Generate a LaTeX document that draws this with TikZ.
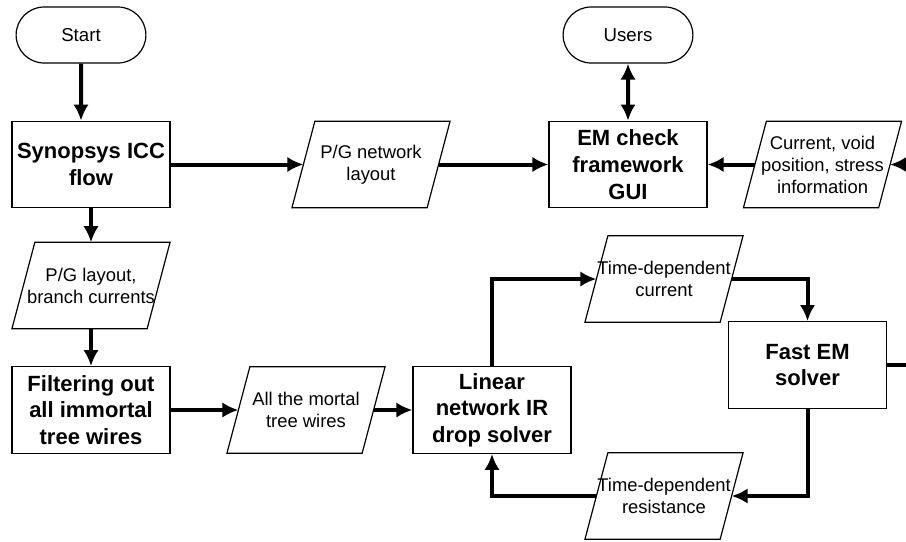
\documentclass[tikz,border=0pt]{standalone}
\usepackage{fontspec}
\setmainfont{Liberation Sans}
\usetikzlibrary{shapes.misc,arrows.meta}
\tikzset{
  term/.style={draw,line width=0.9pt,rounded rectangle,minimum width=104pt,minimum height=42pt,font=\fontsize{14}{16.5}\selectfont},
  proc/.style={draw,line width=0.9pt,minimum width=118.5pt,minimum height=65pt,align=center,inner sep=1pt,font=\bfseries\fontsize{16.5}{20}\selectfont},
  data/.style={minimum width=101pt,minimum height=64.5pt,align=center,inner sep=0pt,font=\fontsize{13.8}{16.5}\selectfont},
  flow/.style={line width=3pt,-{Latex[length=12pt,width=11.5pt]}},
}
\begin{document}
\begin{tikzpicture}[x=0.75pt,y=-0.75pt]
  \useasboundingbox (0,0) rectangle (906,542);
  \node[term] (start) at (81,35) {Start};
  \node[term] (users) at (628,35) {Users};
  \node[proc] (icc) at (91,164.5) {Synopsys ICC\\flow};
  \node[data] (pgnet) at (371,164.5) {P/G network\\layout};
  \node[proc] (gui) at (628,164.5) {EM check\\framework\\GUI};
  \node[data] (info) at (822.5,164.5) {Current, void\\position, stress\\information};
  \node[data] (pglay) at (91,285.5) {P/G layout,\\branch currents};
  \node[proc] (filter) at (91,410) {Filtering out\\all immortal\\tree wires};
  \node[data] (mortal) at (306,410) {All the mortal\\tree wires};
  \node[proc] (irdrop) at (492,410) {Linear\\network IR\\drop solver};
  \node[data] (tdcur) at (664,279) {Time-dependent\\current};
  \node[proc] (fastem) at (807.5,365) {Fast EM\\solver};
  \node[data] (tdres) at (664,496) {Time-dependent\\resistance};
  \coordinate (infoin) at (906,164.5);
  \coordinate (emout) at (906,365);
  % parallelogram outlines
  \foreach \n in {pgnet,info,pglay,mortal,tdcur,tdres}
    \draw[line width=0.9pt] ([xshift=-8.6pt]\n.south west) -- ([xshift=8.6pt]\n.north west)
      -- ([xshift=8.6pt]\n.north east) -- ([xshift=-8.6pt]\n.south east) -- cycle;
  % connectors
  \draw[flow] (start) -- (start |- icc.north);
  \draw[flow] (icc) -- (pgnet.west);
  \draw[flow] (pgnet.east) -- (gui);
  \draw[flow,{Latex[length=12pt,width=11.5pt]}-{Latex[length=12pt,width=11.5pt]}] (users) -- (gui);
  \draw[flow] (info.west) -- (gui);
  \draw[flow] (infoin) -- (info.east);
  \draw[flow] (icc) -- (pglay);
  \draw[flow] (pglay) -- (filter);
  \draw[flow] (filter) -- (mortal.west);
  \draw[flow] (mortal.east) -- (irdrop);
  \draw[flow] (irdrop.north) |- (tdcur.west);
  \draw[flow] (tdcur.east) -| (fastem.north);
  \draw[line width=3pt] (fastem.east) -- (emout);
  \draw[flow] (fastem.south) |- (tdres.east);
  \draw[flow] (tdres.west) -| (irdrop.south);
\end{tikzpicture}
\end{document}
